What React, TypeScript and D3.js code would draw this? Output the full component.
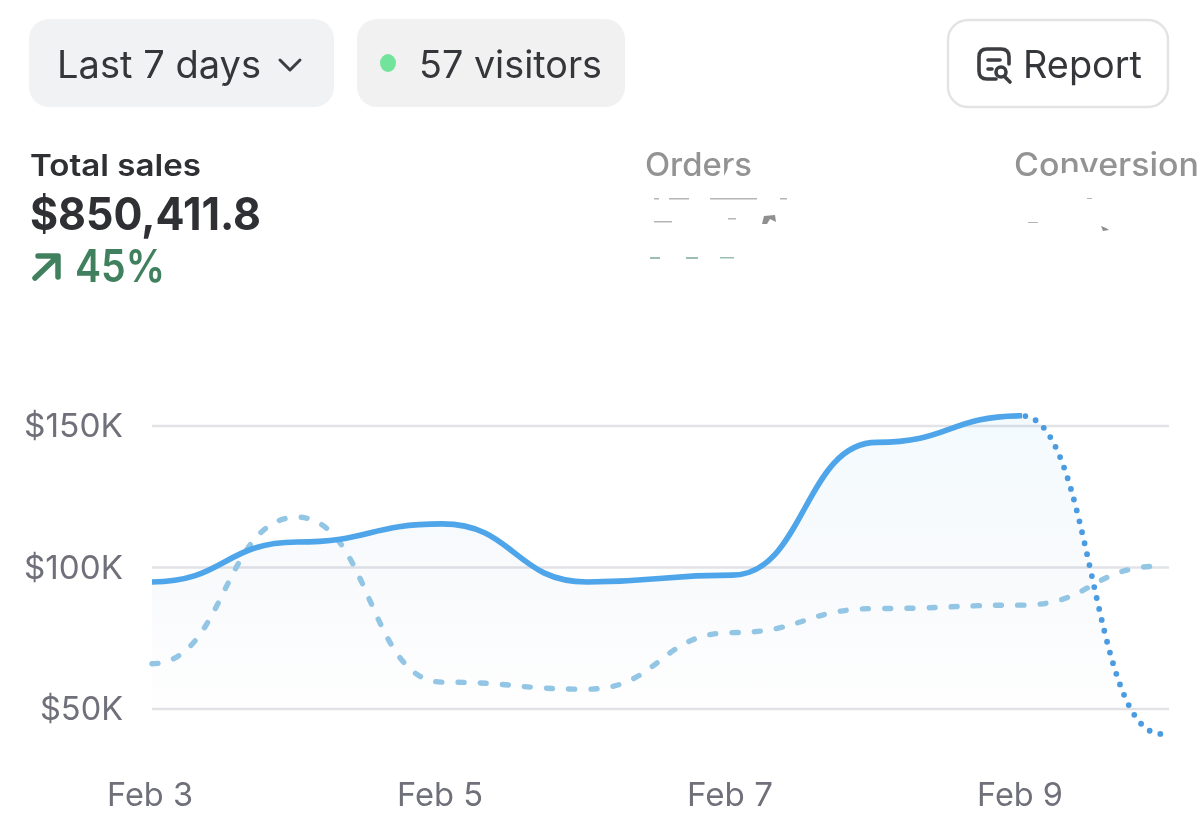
import React from "react";
import * as d3 from "d3";

const dayLabels = ["Feb 3", "Feb 4", "Feb 5", "Feb 6", "Feb 7", "Feb 8", "Feb 9", "Feb 10"];
const dayIndex = [0, 1, 2, 3, 4, 5, 6, 6.96];
const salesK = [94.9, 109, 115.4, 94.9, 97.3, 144.2, 153.6, 41.2];
const previousK = [66, 117.8, 59.5, 57, 77, 85.5, 86.7, 100.5];
const yTicks = [50, 100, 150];
const xTicks = [0, 2, 4, 6];

const FONT = "Inter, sans-serif";

export default function App() {
  const x = d3.scaleLinear().domain([0, 7]).range([152, 1167]);
  const y = d3.scaleLinear().domain([50, 150]).range([709, 426]);
  const pts = dayIndex.map((d, i) => ({ d, s: salesK[i], p: previousK[i] }));
  const line = (k: "s" | "p") =>
    d3.line<any>().x((q) => x(q.d)).y((q) => y(q[k])).curve(d3.curveBumpX);
  const area = d3
    .area<any>()
    .x((q) => x(q.d))
    .y0(726)
    .y1((q) => y(q.s))
    .curve(d3.curveBumpX);
  return (
    <svg
      width={1200}
      height={829}
      viewBox="0 0 1200 829"
      style={{ position: "absolute", left: 0, top: 0, background: "#fff", fontFamily: FONT }}
    >
      <defs>
        <linearGradient id="fade" gradientUnits="userSpaceOnUse" x1="0" y1="415" x2="0" y2="726">
          <stop offset="0" stopColor="#f3fafe" />
          <stop offset="0.55" stopColor="#f9fafc" />
          <stop offset="1" stopColor="#ffffff" />
        </linearGradient>
        <clipPath id="solidPart">
          <rect x={0} y={0} width={x(6)} height={829} />
        </clipPath>
        <clipPath id="dotPart">
          <rect x={x(6)} y={0} width={300} height={829} />
        </clipPath>
      </defs>

      <rect x={29} y={19} width={305} height={88} rx={20} fill="#f1f2f4" />
      <text x={57} y={78} fontSize={38} fill="#35363a" textLength={204} lengthAdjust="spacingAndGlyphs">Last 7 days</text>
      <path d="M280 60 L290 70 L300 60" fill="none" stroke="#3c3d41" strokeWidth={3} strokeLinecap="round" strokeLinejoin="round" />

      <rect x={357} y={19} width={268} height={88} rx={20} fill="#f1f1f2" />
      <ellipse cx={388} cy={63} rx={8} ry={9} fill="#72e39a" />
      <text x={419} y={78} fontSize={38} fill="#35363a" textLength={183} lengthAdjust="spacingAndGlyphs">57 visitors</text>

      <rect x={948} y={20} width={220} height={87} rx={20} fill="#fff" stroke="#e3e3e3" strokeWidth={2.4} />
      <g fill="none" stroke="#3c3d41" strokeWidth={3.6} strokeLinecap="round">
        <path d="M996 79 H987 Q979 79 979 71 V57 Q979 49 987 49 H1001 Q1009 49 1009 57 V64" />
        <path d="M988 60 H1000 M988 69 H992" />
        <circle cx={1001} cy={72} r={5} />
        <path d="M1005 77 L1010 82" />
      </g>
      <text x={1023} y={78} fontSize={38} fill="#35363a" textLength={119} lengthAdjust="spacingAndGlyphs">Report</text>

      <text x={30} y={176} fontSize={30} fontWeight={600} fill="#2f3033" textLength={171} lengthAdjust="spacingAndGlyphs">Total sales</text>
      <text x={30} y={230} fontSize={45} fontWeight={700} fill="#2f3033" textLength={231} lengthAdjust="spacingAndGlyphs">$850,411.8</text>
      <path d="M35 278 L57 257 M38 256 H58 V277" fill="none" stroke="#41805e" strokeWidth={5.5} strokeLinecap="round" strokeLinejoin="round" />
      <text x={75} y={282} fontSize={45} fontWeight={600} fill="#41805e" textLength={90} lengthAdjust="spacingAndGlyphs">45%</text>

      <text x={645} y={176} fontSize={32} fontWeight={500} fill="#939393" textLength={107} lengthAdjust="spacingAndGlyphs">Orders</text>
      <text x={1014} y={176} fontSize={32} fontWeight={500} fill="#939393" textLength={185} lengthAdjust="spacingAndGlyphs">Conversion</text>
      <path d="M722 180 L732 160 L736 162 L728 180 Z M1050 180 L1052 175 L1070 172 L1096 172 L1098 180 Z" fill="#fff" />
      <g fill="#b4b6b6">
        <rect x={654} y={198} width={5} height={1.5} />
        <rect x={669} y={198} width={20} height={1.5} />
        <rect x={710} y={198} width={47} height={1.5} />
        <rect x={780} y={198} width={7} height={1.5} />
        <rect x={654} y={221} width={18} height={1.5} />
        <rect x={728} y={218} width={8} height={1.5} />
        <rect x={650} y={257} width={10} height={2} fill="#9cbdb5" />
        <rect x={686} y={257} width={12} height={2} fill="#9cbdb5" />
        <rect x={720} y={257} width={14} height={1.5} fill="#9cbdb5" />
        <rect x={1087} y={198} width={5} height={1} />
        <rect x={1028} y={222} width={10} height={1} />
      </g>
      <path d="M762 224 L764 216 L775 215 L776 222 L770 219 L767 224 Z M1101 226 L1106 228 L1109 230 L1103 231 Z" fill="#8f8f8f" />

      {yTicks.map((t) => (
        <g key={t}>
          <line x1={152} x2={1169} y1={y(t)} y2={y(t)} stroke="#e2e3e7" strokeWidth={2.5} />
          <text x={123} y={y(t) + 11} textAnchor="end" fontSize={33} fill="#6f7079" textLength={t === 50 ? 83 : 99} lengthAdjust="spacingAndGlyphs">{`$${t}K`}</text>
        </g>
      ))}
      {xTicks.map((t) => (
        <text key={t} x={x(t) - 2} y={806} textAnchor="middle" fontSize={33} fill="#6f7079" textLength={86} lengthAdjust="spacingAndGlyphs">{dayLabels[t]}</text>
      ))}

      <path d={area(pts) || ""} fill="url(#fade)" style={{ mixBlendMode: "multiply" }} />
      <path d={line("p")(pts) || ""} fill="none" stroke="#93c5e4" strokeWidth={5.4} strokeDasharray="6 16.2" strokeLinecap="round" />
      <path d={line("s")(pts) || ""} fill="none" stroke="#4ea5e9" strokeWidth={5.6} clipPath="url(#solidPart)" />
      <path d={line("s")(pts) || ""} fill="none" stroke="#4a9be0" strokeWidth={5.8} strokeDasharray="0 11.2" strokeLinecap="round" clipPath="url(#dotPart)" />
    </svg>
  );
}
